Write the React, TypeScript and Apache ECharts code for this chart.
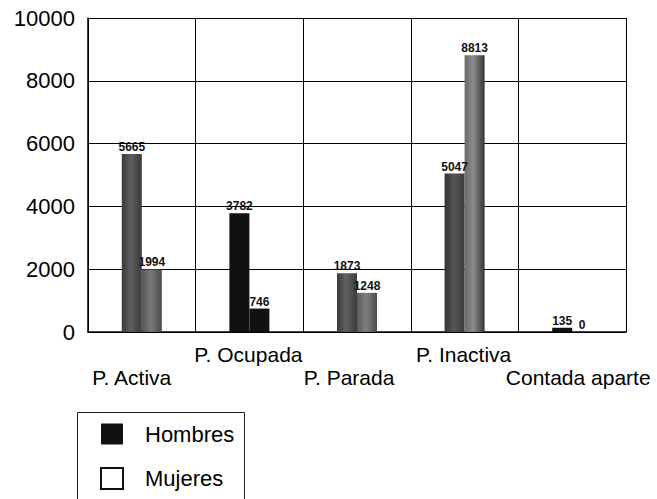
import React, { useEffect, useRef } from "react";
import * as echarts from "echarts";

const categories = ["P. Activa", "P. Ocupada", "P. Parada", "P. Inactiva", "Contada aparte"];
const hombres = [5665, 3782, 1873, 5047, 135];
const mujeres = [1994, 746, 1248, 8813, 0];
const yTicks = [0, 2000, 4000, 6000, 8000, 10000];

const FONT = "'Liberation Sans', Arial, sans-serif";

const grad = (a: string, b: string, c: string) =>
  new echarts.graphic.LinearGradient(0, 0, 1, 0, [
    { offset: 0, color: a },
    { offset: 0.45, color: b },
    { offset: 1, color: c },
  ]);

const hombresColors = [
  grad("#3a3a3a", "#5e5e5e", "#3a3a3a"),
  "#111111",
  grad("#3a3a3a", "#606060", "#3a3a3a"),
  grad("#333333", "#555555", "#3c3c3c"),
  "#111111",
];
const mujeresColors = [
  grad("#555555", "#7a7a7a", "#4a4a4a"),
  "#111111",
  grad("#5a5a5a", "#808080", "#4a4a4a"),
  grad("#6a6a6a", "#8c8c8c", "#333333"),
  "#111111",
];

const labelPad = [
  [0, 20, 0, 0],
  [0, 2, 0, 0],
  [0, 16, 0, 0],
  [0, 2, 0, 0],
  [0, 0, 0, 12],
];

export default function App() {
  const ref = useRef<HTMLDivElement>(null);
  useEffect(() => {
    if (!ref.current) return;
    const chart = echarts.init(ref.current, null, { renderer: "svg" });
    const label = {
      show: true,
      position: "top" as const,
      distance: 1,
      fontSize: 12,
      fontWeight: "bold" as const,
      color: "#111",
      fontFamily: FONT,
    };
    const rich: Record<string, any> = {};
    labelPad.forEach((p, i) => {
      rich["s" + i] = { fontSize: 21, color: "#000", fontFamily: FONT, lineHeight: 23, padding: p };
    });
    chart.setOption({
      animation: false,
      backgroundColor: "#fff",
      textStyle: { fontFamily: FONT },
      grid: { left: 88, right: 31, top: 18, bottom: 167 },
      graphic: [
        {
          type: "rect",
          left: 75,
          top: 410,
          shape: { x: 0, y: 0, width: 167, height: 110 },
          style: { fill: "none", stroke: "#222", lineWidth: 1 },
          z: 10,
        },
      ],
      legend: {
        orient: "vertical",
        left: 75,
        top: 410,
        padding: [13, 0, 0, 25],
        itemWidth: 22,
        itemHeight: 21,
        itemGap: 22,
        textStyle: { fontSize: 22, color: "#000", fontFamily: FONT, padding: [0, 0, 0, 17] },
        data: [
          { name: "Hombres", icon: "rect", itemStyle: { color: "#111", borderWidth: 0 } },
          {
            name: "Mujeres",
            icon: "rect",
            itemStyle: { color: "#fff", borderColor: "#111", borderWidth: 2 },
          },
        ],
      },
      xAxis: {
        type: "category",
        data: categories,
        boundaryGap: true,
        axisLine: { show: true, lineStyle: { color: "#000", width: 1.5 } },
        axisTick: { show: false },
        splitLine: { show: true, lineStyle: { color: "#000", width: 1 } },
        axisLabel: {
          interval: 0,
          margin: 11,
          color: "#000",
          fontSize: 21,
          lineHeight: 23,
          fontFamily: FONT,
          rich,
          formatter: (v: string, i: number) =>
            i % 2 === 0 ? "\n{s" + i + "|" + v + "}" : "{s" + i + "|" + v + "}",
        },
      },
      yAxis: {
        type: "value",
        min: yTicks[0],
        max: yTicks[yTicks.length - 1],
        interval: yTicks[1] - yTicks[0],
        axisLine: { show: true, lineStyle: { color: "#000", width: 1.5 } },
        axisTick: { show: false },
        splitLine: { show: true, lineStyle: { color: "#000", width: 1 } },
        axisLabel: {
          color: "#000",
          fontSize: 22,
          margin: 13,
          fontFamily: FONT,
          formatter: (v: number) => String(v),
        },
      },
      series: [
        {
          name: "Hombres",
          type: "bar",
          barWidth: 20,
          barGap: "0%",
          itemStyle: { color: "#111" },
          label,
          data: hombres.map((v, i) => ({ value: v, itemStyle: { color: hombresColors[i] } })),
        },
        {
          name: "Mujeres",
          type: "bar",
          barWidth: 20,
          barGap: "0%",
          itemStyle: { color: "#fff" },
          label,
          data: mujeres.map((v, i) => ({ value: v, itemStyle: { color: mujeresColors[i] } })),
        },
      ],
    });
    return () => chart.dispose();
  }, []);
  return (
    <div
      ref={ref}
      style={{ position: "absolute", left: 0, top: 0, width: 657, height: 499 }}
    />
  );
}
